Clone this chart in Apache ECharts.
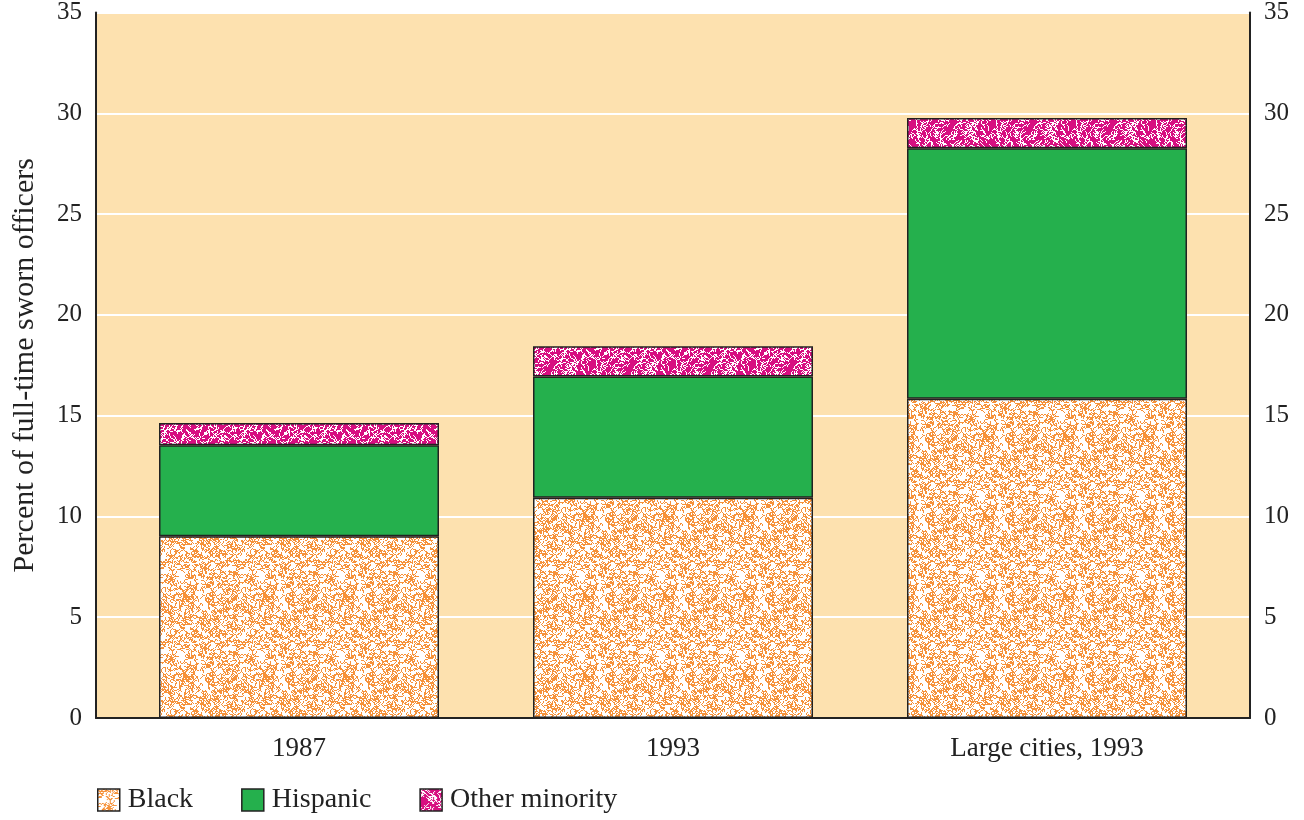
<!DOCTYPE html>
<html>
<head>
<meta charset="utf-8">
<script src="https://cdn.jsdelivr.net/npm/echarts@6/dist/echarts.min.js"></script>
<style>
  html, body { margin: 0; padding: 0; background: #fff; }
  #chart { width: 1304px; height: 820px; }
</style>
</head>
<body>
<div id="chart"></div>
<script>
// Chart data
const categories = ['1987', '1993', 'Large cities, 1993'];
const black = [9.0, 10.9, 15.8];
const hispanic = [4.5, 6.0, 12.4];
const otherMinority = [1.1, 1.5, 1.5];
const yTicks = { min: 0, max: 35, interval: 5 };

// Small seeded generator so the squiggle textures look the same every load
function makeRng(seed) {
  let s = seed >>> 0;
  return function () {
    s = (s * 1664525 + 1013904223) >>> 0;
    return s / 4294967296;
  };
}

// Tileable pixel "worm" texture: short random walks of ink on a ground colour
function squiggleTexture(ground, ink, seed, count, minLen, maxLen) {
  const size = 80;
  const c = document.createElement('canvas');
  c.width = size; c.height = size;
  const g = c.getContext('2d');
  g.fillStyle = ground;
  g.fillRect(0, 0, size, size);
  g.fillStyle = ink;
  const rnd = makeRng(seed);
  const dirs = [[1, 0], [1, 1], [0, 1], [-1, 1], [-1, 0], [-1, -1], [0, -1], [1, -1]];
  for (let i = 0; i < count; i++) {
    let x = Math.floor(rnd() * size), y = Math.floor(rnd() * size);
    let d = Math.floor(rnd() * 8);
    const len = minLen + Math.floor(rnd() * (maxLen - minLen + 1));
    for (let k = 0; k < len; k++) {
      g.fillRect(((x % size) + size) % size, ((y % size) + size) % size, 1, 1);
      const r = rnd();
      if (r < 0.3) d = (d + 1) % 8; else if (r < 0.6) d = (d + 7) % 8;
      x += dirs[d][0]; y += dirs[d][1];
    }
  }
  return c;
}

const blackFill = { image: squiggleTexture('#ffffff', '#F6923A', 7, 800, 3, 6), repeat: 'repeat' };
const otherFill = { image: squiggleTexture('#D70E80', '#ffffff', 19, 520, 3, 6), repeat: 'repeat' };
const hispanicFill = '#25B04D';

const serif = '"Liberation Serif", "DejaVu Serif", serif';
const textColor = '#222';
const barBorder = { borderColor: '#222', borderWidth: 1.5 };

function frameAxis(position, withLines) {
  return {
    type: 'value',
    gridIndex: 0,
    position: position,
    min: yTicks.min,
    max: yTicks.max,
    interval: yTicks.interval,
    axisLine: { show: true, lineStyle: { color: '#222', width: 2 } },
    axisTick: { show: false },
    axisLabel: { color: textColor, fontFamily: serif, fontSize: 25, margin: 14 },
    splitLine: { show: withLines, lineStyle: { color: '#ffffff', width: 2 } }
  };
}

const chart = echarts.init(document.getElementById('chart'));
chart.setOption({
  animation: false,
  grid: [
    // frame: background, gridlines, both value axes and the baseline
    { left: 96, right: 54, top: 11, bottom: 102, show: true, backgroundColor: '#FDE1AF', borderWidth: 0 },
    // bars sit on a slightly narrower band of categories
    { left: 112, right: 70, top: 11, bottom: 102 }
  ],
  legend: {
    left: 97, top: 786, padding: 0,
    itemWidth: 22, itemHeight: 22, itemGap: 48,
    icon: 'rect',
    textStyle: { color: textColor, fontFamily: serif, fontSize: 28, padding: [0, 0, 0, 3] },
    itemStyle: { borderColor: '#222', borderWidth: 1.5 },
    data: ['Black', 'Hispanic', 'Other minority']
  },
  xAxis: [
    {
      type: 'category', gridIndex: 0, data: [''],
      axisLine: { show: true, lineStyle: { color: '#222', width: 2 } },
      axisTick: { show: false }, axisLabel: { show: false }
    },
    {
      type: 'category', gridIndex: 1, data: categories,
      axisLine: { show: false },
      axisTick: { show: false },
      axisLabel: { color: textColor, fontFamily: serif, fontSize: 27, margin: 17 }
    }
  ],
  yAxis: [
    Object.assign(frameAxis('left', true), {
      name: 'Percent of full-time sworn officers',
      nameLocation: 'middle',
      nameGap: 56,
      nameTextStyle: { color: textColor, fontFamily: serif, fontSize: 30 }
    }),
    frameAxis('right', false),
    {
      type: 'value', gridIndex: 1,
      min: yTicks.min, max: yTicks.max, interval: yTicks.interval,
      show: false
    }
  ],
  series: [
    { name: 'Black', type: 'bar', stack: 'total', xAxisIndex: 1, yAxisIndex: 2, barWidth: 280, data: black,
      itemStyle: Object.assign({ color: blackFill }, barBorder) },
    { name: 'Hispanic', type: 'bar', stack: 'total', xAxisIndex: 1, yAxisIndex: 2, barWidth: 280, data: hispanic,
      itemStyle: Object.assign({ color: hispanicFill }, barBorder) },
    { name: 'Other minority', type: 'bar', stack: 'total', xAxisIndex: 1, yAxisIndex: 2, barWidth: 280, data: otherMinority,
      itemStyle: Object.assign({ color: otherFill }, barBorder) }
  ]
});
</script>
</body>
</html>
